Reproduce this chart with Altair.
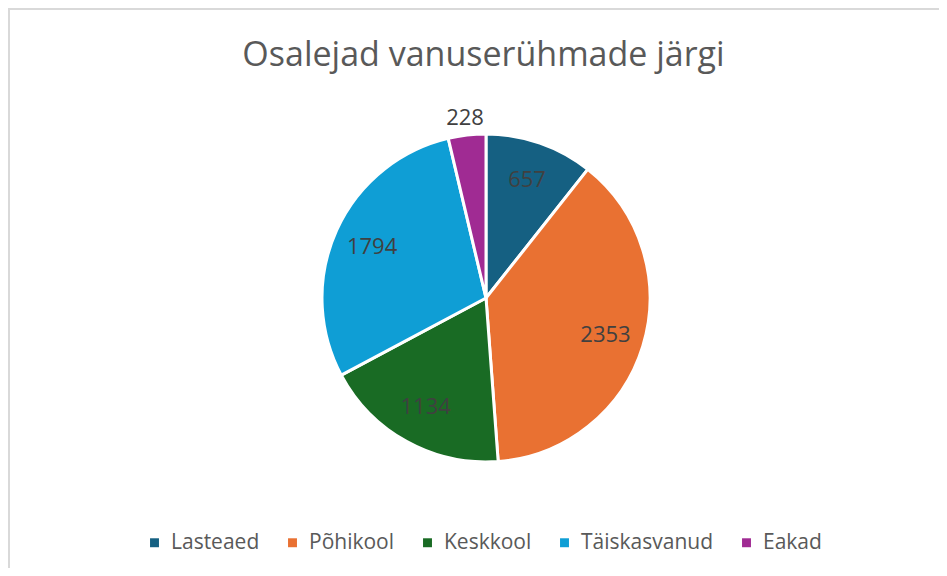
import altair as alt
import pandas as pd

categories = ["Lasteaed", "Põhikool", "Keskkool", "Täiskasvanud", "Eakad"]
values = [657, 2353, 1134, 1794, 228]
colors = ["#156082", "#E97132", "#196B24", "#0F9ED5", "#A02B93"]
outside = ["Eakad"]

df = pd.DataFrame({
    "rühm": categories,
    "osalejad": values,
    "järjekord": list(range(len(categories))),
})

FONT = "Open Sans"
CX, CY = 478, 290

order = alt.Order("järjekord:Q", sort="ascending")
color = alt.Color(
    "rühm:N",
    scale=alt.Scale(domain=categories, range=colors),
    sort=categories,
    legend=alt.Legend(
        title=None,
        orient="none",
        direction="horizontal",
        legendX=136,
        legendY=524,
        symbolType="square",
        symbolSize=80,
        symbolStrokeWidth=0,
        labelFont=FONT,
        labelFontSize=21,
        labelColor="#595959",
        columnPadding=22,
        labelOffset=6,
    ),
)

base = alt.Chart(df)

arcs = base.mark_arc(
    outerRadius=164, stroke="white", strokeWidth=3, x=CX, y=CY
).encode(theta=alt.Theta("osalejad:Q", stack=True), color=color, order=order)

label_base = base.transform_joinaggregate(
    total="sum(osalejad)"
).transform_window(
    cum="sum(osalejad)", sort=[alt.SortField("järjekord")], frame=[None, 0]
).transform_calculate(
    mid="(datum.cum - datum.osalejad / 2) / datum.total"
)

theta_mid = alt.Theta(
    "mid:Q", scale=alt.Scale(domain=[0, 1], range=[0, 6.283185307]), stack=None
)

labels_in = label_base.transform_filter(
    ~alt.FieldOneOfPredicate(field="rühm", oneOf=outside)
).mark_text(
    radius=125, x=CX, y=CY, font=FONT, fontSize=22, color="#404040"
).encode(theta=theta_mid, text="osalejad:Q")

labels_out = label_base.transform_filter(
    alt.FieldOneOfPredicate(field="rühm", oneOf=outside)
).mark_text(
    radius=181, x=CX, y=CY, font=FONT, fontSize=22, color="#404040"
).encode(theta=theta_mid, text="osalejad:Q")

top_rule = base.mark_rule(color="#d9d9d9", strokeWidth=2).encode(
    x=alt.value(0), x2=alt.value(931), y=alt.value(1)
)
left_rule = base.mark_rule(color="#d9d9d9", strokeWidth=2).encode(
    x=alt.value(1), y=alt.value(0), y2=alt.value(560)
)

chart = alt.layer(top_rule, left_rule, arcs, labels_in, labels_out).resolve_scale(
    theta="independent"
).properties(
    width=931,
    height=560,
    autosize=alt.AutoSizeParams(type="none"),
    padding=0,
    title=alt.TitleParams(
        "Osalejad vanuserühmade järgi",
        font=FONT,
        fontSize=34,
        fontWeight="normal",
        color="#595959",
        anchor="middle",
        dx=10,
        dy=70,
    ),
).configure_view(stroke=None).configure(background="white")

chart.save("out.html", embed_options={"renderer": "svg", "actions": False})
